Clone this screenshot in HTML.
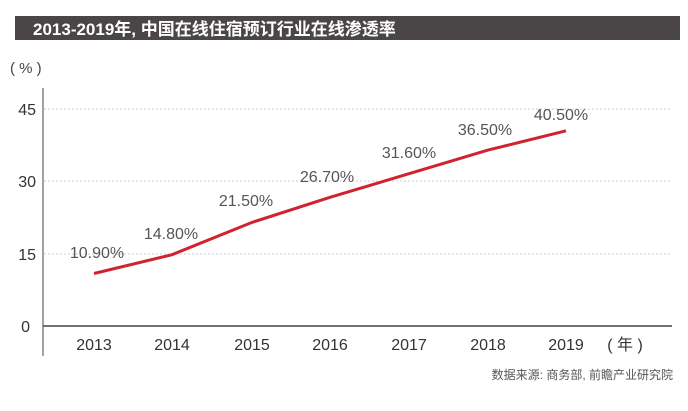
<!DOCTYPE html>
<html><head><meta charset="utf-8"><style>
body{margin:0;background:#fff;width:688px;height:406px;overflow:hidden;font-family:"Liberation Sans","Noto Sans CJK SC",sans-serif}
</style></head><body>
<svg width="688" height="406" viewBox="0 0 688 406" xmlns="http://www.w3.org/2000/svg" font-family="Liberation Sans, Noto Sans CJK SC, sans-serif">
<rect x="15" y="16" width="665" height="24" fill="#4a4546"/>
<text x="33" y="35" fill="#fff" font-size="17" font-weight="bold">2013-2019年, 中国在线住宿预订行业在线渗透率</text>
<text x="10" y="73" fill="#444" font-size="15">( % )</text>
<g stroke="#ccc" stroke-dasharray="2,2" stroke-width="1">
<line x1="44" y1="109" x2="672" y2="109"/><line x1="44" y1="181" x2="672" y2="181"/><line x1="44" y1="254" x2="672" y2="254"/>
</g>
<line x1="43" y1="88" x2="43" y2="356" stroke="#444" stroke-width="1"/>
<line x1="43" y1="326" x2="672" y2="326" stroke="#444" stroke-width="1.5"/>
<g fill="#333" font-size="16" text-anchor="end">
<text x="36" y="115">45</text><text x="36" y="187">30</text><text x="36" y="260">15</text><text x="30" y="332">0</text>
</g>
<g fill="#333" font-size="16" text-anchor="middle">
<text x="94" y="350">2013</text><text x="172" y="350">2014</text><text x="252" y="350">2015</text><text x="330" y="350">2016</text><text x="409" y="350">2017</text><text x="488" y="350">2018</text><text x="566" y="350">2019</text><text x="625" y="350">( 年 )</text>
</g>
<polyline points="94,273.5 172,254.7 252,222.4 330,197.3 409,173.7 488,150.1 566,130.8" fill="none" stroke="#d0232f" stroke-width="3"/>
<g fill="#555" font-size="16" text-anchor="middle">
<text x="97" y="258">10.90%</text><text x="171" y="239">14.80%</text><text x="246" y="206">21.50%</text><text x="327" y="182">26.70%</text><text x="409" y="158">31.60%</text><text x="485" y="135">36.50%</text><text x="561" y="120">40.50%</text>
</g>
<text x="673" y="379" fill="#555" font-size="12" text-anchor="end">数据来源: 商务部, 前瞻产业研究院</text>
</svg>
</body></html>
